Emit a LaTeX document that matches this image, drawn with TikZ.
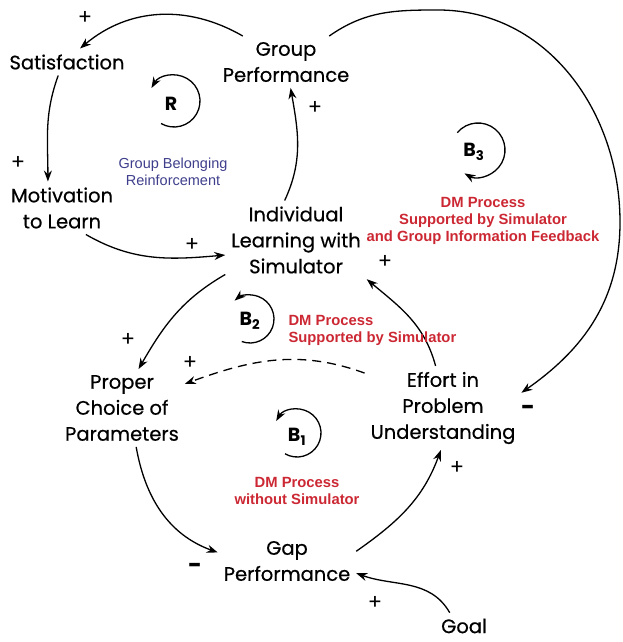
\documentclass[tikz,border=0pt]{standalone}
\usepackage{fontspec}
\usepackage{tikz}
\usetikzlibrary{arrows.meta}
\newfontfamily\gothfont[FakeBold=0.5]{Poppins}
\newfontfamily\signfont{Poppins}
\newfontfamily\labfont{Liberation Sans}
\definecolor{dmred}{RGB}{204,40,52}
\definecolor{grpblue}{RGB}{62,62,140}

\begin{document}
\begin{tikzpicture}[>={Stealth[length=11pt,width=8pt]}, x=1pt, y=1pt,
  var/.style={align=center, inner sep=2pt, outer sep=4pt, font=\gothfont\fontsize{19.5}{26}\selectfont},
  sgn/.style={font=\signfont\fontsize{21}{21}\selectfont, inner sep=0pt},
  link/.style={line width=1.3pt, ->},
  loopname/.style={font=\signfont\bfseries\fontsize{19}{19}\selectfont, inner sep=0pt},
  dmlabel/.style={align=center, text=dmred, font=\labfont\bfseries\fontsize{14.8}{17}\selectfont}]

\useasboundingbox (0,0) rectangle (622,642);

\draw (67,580) node[var] (sat) {Satisfaction};
\draw (286,580) node[var] (gp) {Group\\Performance};
\draw (62,434) node[var] (mot) {Motivation\\to Learn};
\draw (296,402) node[var] (il) {Individual\\Learning with\\Simulator};
\draw (122,234) node[var] (pc) {Proper\\Choice of\\Parameters};
\draw (443,234) node[var] (ef) {Effort in\\Problem\\Understanding};
\draw (287,81) node[var] (gap) {Gap\\Performance};
\draw (464,16) node[var] (goal) {Goal};

\draw [link] (gp.149) to [out=150, in=40] (sat.46);
\draw [link] (sat.237) to [out=250, in=90] (mot.118);
\draw [link] (mot.312) to [out=-30, in=185] (il.192);
\draw [link] (il.106) to [out=65, in=-80] (gp.280);
\draw [link] (gp.31) to [out=35, in=180] (438,632) to [out=0, in=90] (620,420) to [out=-90, in=35] (ef.11);
\draw [link] (ef.100) to [out=105, in=-40] (il.331);
\draw [link] (il.206) to [out=210, in=60] (pc.67);
\draw [link, dashed, dash pattern=on 9pt off 6pt] (ef.156) to [out=160, in=20] (pc.21);
\draw [link] (pc.290) to [out=-80, in=160] (gap.173);
\draw [link] (gap.8) to [out=35, in=250] (ef.267);
\draw [link] (goal.137) to [out=120, in=-20] (gap.-10);

\node[loopname] (R) at (171,538) {R};
\draw [link] (174,541) ++(240:26) arc [start angle=240, end angle=510, radius=26];
\node[loopname] (B3) at (474,490) {B\textsubscript{3}};
\draw [link] (478,492) ++(140:27) arc [start angle=140, end angle=-120, radius=27];
\node[loopname] (B2) at (250,321) {B\textsubscript{2}};
\draw [link] (250,323) ++(250:24) arc [start angle=250, end angle=490, radius=24];
\node[loopname] (B1) at (297,205) {B\textsubscript{1}};
\draw [link] (297,209) ++(240:24) arc [start angle=240, end angle=510, radius=24];

\node[align=center, text=grpblue, font=\labfont\fontsize{14.5}{16.5}\selectfont] (grp) at (173,470) {Group Belonging\\Reinforcement};
\node[dmlabel] (dm3) at (483,421) {DM Process\\Supported by Simulator\\and Group Information Feedback};
\node[dmlabel, anchor=west, align=left] (dm2) at (285,312) {DM Process\\Supported by Simulator};
\node[dmlabel] (dm1) at (297,151) {DM Process\\without Simulator};

\node[sgn] at (85,624) {+};
\node[sgn] at (315,534) {+};
\node[sgn] at (18,479) {+};
\node[sgn] at (192,397) {+};
\node[sgn] at (385,380) {+};
\node[sgn] at (128,302) {+};
\node[sgn] at (190,279) {+};
\node[sgn] at (457,174) {+};
\node[sgn] at (375,39) {+};
\node[sgn, font=\signfont\bfseries\fontsize{24}{24}\selectfont] at (528,232) {-};
\node[sgn, font=\signfont\bfseries\fontsize{24}{24}\selectfont] at (195,74) {-};

\end{tikzpicture}
\end{document}
